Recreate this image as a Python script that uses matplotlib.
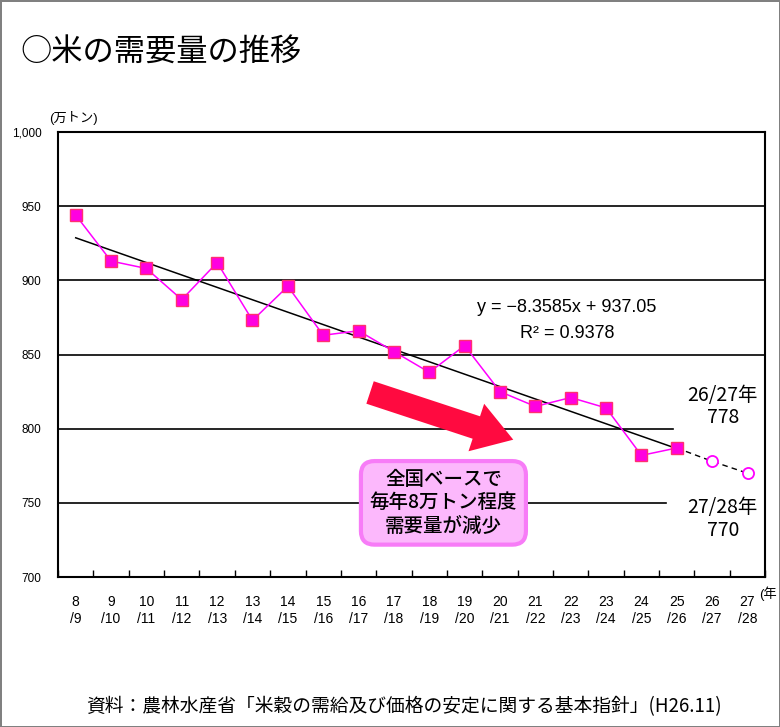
import numpy as np
import matplotlib.pyplot as plt

plt.rcParams['font.family'] = ['Liberation Sans', 'Noto Sans CJK JP', 'DejaVu Sans']

# 年度ラベル (上段 / 下段)
years_top = ['8', '9', '10', '11', '12', '13', '14', '15', '16', '17',
             '18', '19', '20', '21', '22', '23', '24', '25', '26', '27']
years_bot = ['/9', '/10', '/11', '/12', '/13', '/14', '/15', '/16', '/17', '/18',
             '/19', '/20', '/21', '/22', '/23', '/24', '/25', '/26', '/27', '/28']

# 実績 (万トン)
demand = [944, 913, 908, 887, 912, 873, 896, 863, 866, 852,
          838, 856, 825, 815, 821, 814, 782, 787]
# 見通し
forecast = [778, 770]

# 近似直線 y = -8.3585x + 937.05
slope = -8.3585
intercept = 937.05

yticks = [700, 750, 800, 850, 900, 950, 1000]
ytick_labels = ['700', '750', '800', '850', '900', '950', '1,000']

fig = plt.figure(figsize=(7.8, 7.27), dpi=100)
fig.patch.set_edgecolor('#808080')
fig.patch.set_linewidth(2)
ax = fig.add_axes([0.0744, 0.2063, 0.9066, 0.6121])

n = len(years_top)
x = np.arange(n)
xa = x[:len(demand)]
xf = x[len(demand):]

# 横線
for v in [850, 900, 950]:
    ax.axhline(v, color='black', lw=1.2, zorder=1)
ax.plot([-0.5, 16.9], [800, 800], color='black', lw=1.2, zorder=1)
ax.plot([-0.5, 16.7], [750, 750], color='black', lw=1.2, zorder=1)

# 近似直線
ax.plot(xa, slope * (xa + 1) + intercept, color='black', lw=1.1, zorder=2)

# 見通し（点線）
ax.plot([xa[-1]] + list(xf), [demand[-1]] + forecast, color='black', lw=1,
        ls=(0, (4, 3)), zorder=2)
ax.plot(xf, forecast, 'o', ms=8, mfc='white', mec='#FF00FF', mew=1.3, zorder=4)

# 実績
ax.plot(xa, demand, color='#FF00FF', lw=1.1, marker='s', ms=8,
        mfc='#FF00E0', mec='#FF3070', mew=1, zorder=3)

ax.set_xlim(-0.5, n - 0.5)
ax.set_ylim(700, 1000)
ax.set_yticks(yticks)
ax.set_yticklabels(ytick_labels, fontsize=8.5)
ax.tick_params(axis='y', length=0, pad=12)
ax.set_xticks(np.arange(-0.5, n, 1))
ax.set_xticklabels([])
ax.tick_params(axis='x', direction='in', length=5, width=1)
for s in ax.spines.values():
    s.set_linewidth(1.5)

for i in range(n):
    ax.text(i, 688, years_top[i], ha='center', va='top', fontsize=10)
    ax.text(i, 676.5, years_bot[i], ha='center', va='top', fontsize=10)
fig.text(0.996, 0.194, '(年', ha='right', va='top', fontsize=9.5)

ax.text(-0.75, 1005, '(万トン)', ha='left', va='bottom', fontsize=9.5)

# 数式
ax.text(13.9, 882, 'y = −8.3585x + 937.05', ha='center', va='center', fontsize=13)
ax.text(13.9, 864, 'R² = 0.9378', ha='center', va='center', fontsize=13)

# 見通しラベル
ax.text(18.3, 815, '26/27年\n778', ha='center', va='center', fontsize=14,
        linespacing=1.1, family=['Noto Sans CJK JP'])
ax.text(18.3, 739, '27/28年\n770', ha='center', va='center', fontsize=14,
        linespacing=1.1, family=['Noto Sans CJK JP'])

# 矢印
ax.annotate('', xy=(12.45, 792), xytext=(8.25, 825),
            arrowprops=dict(arrowstyle='simple,head_width=1.8,head_length=1.4,tail_width=0.85',
                            mutation_scale=20, fc='#FF0A40', ec='none'))

# 吹き出し
ax.text(10.4, 750, '全国ベースで\n毎年8万トン程度\n需要量が減少', ha='center', va='center',
        fontsize=14, linespacing=1.3, family=['Noto Sans CJK JP'], weight='medium',
        bbox=dict(boxstyle='round,pad=0.45,rounding_size=0.7', fc='#FCB8FC',
                  ec='#F77CF7', lw=3), zorder=5)

fig.text(0.026, 0.928, '○米の需要量の推移', ha='left', va='center', fontsize=22.5,
         family=['Noto Sans CJK JP'])
fig.text(0.518, 0.028, '資料：農林水産省「米穀の需給及び価格の安定に関する基本指針」(H26.11)',
         ha='center', va='center', fontsize=13.5, family=['Noto Sans CJK JP'])

fig.savefig('out.png', dpi=100)
